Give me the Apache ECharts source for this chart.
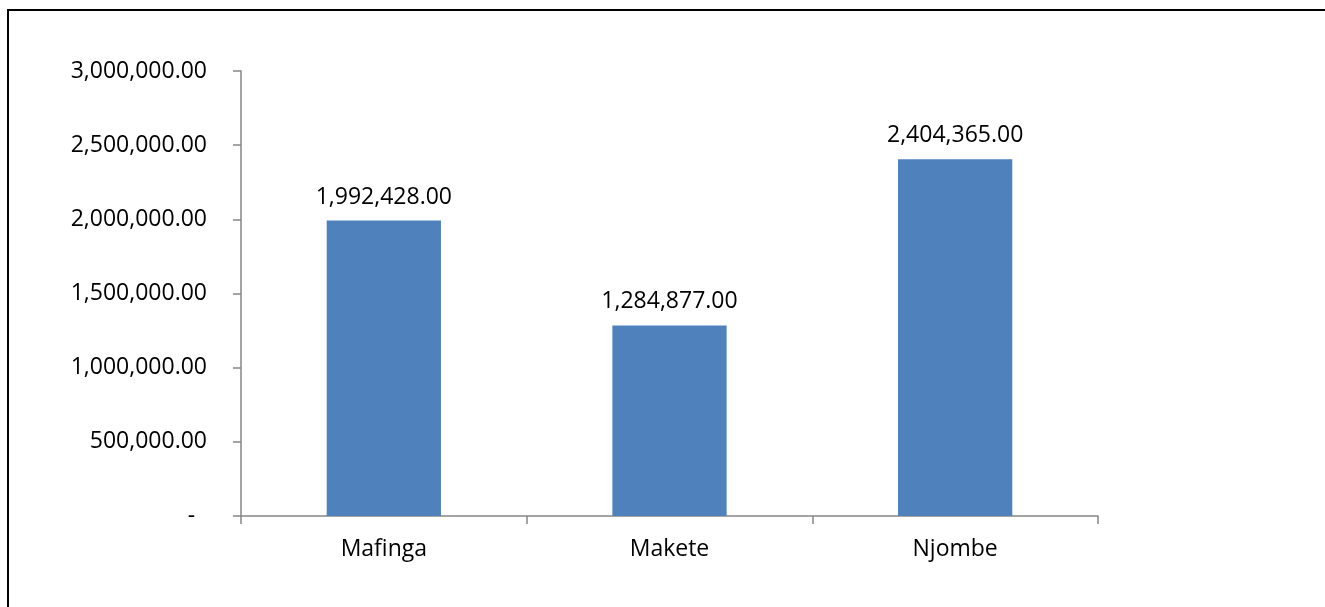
<!DOCTYPE html>
<html>
<head>
<meta charset="utf-8">
<script src="https://cdn.jsdelivr.net/npm/echarts@6/dist/echarts.min.js"></script>
<style>
html,body{margin:0;padding:0;background:#fff;}
#chart{width:1325px;height:607px;}
</style>
</head>
<body>
<div id="chart"></div>
<script>
const categories = ['Mafinga', 'Makete', 'Njombe'];
const values = [1992428, 1284877, 2404365];
const yTicks = [0, 500000, 1000000, 1500000, 2000000, 2500000, 3000000];

function fmt(v) {
  return v.toLocaleString('en-US', {minimumFractionDigits: 2, maximumFractionDigits: 2});
}

const chart = echarts.init(document.getElementById('chart'), null, {renderer: 'canvas'});
const FONT = 'Open Sans';
chart.setOption({
  animation: false,
  backgroundColor: '#ffffff',
  grid: {left: 241, right: 227, top: 71, bottom: 91, containLabel: false},
  graphic: [
    {type: 'polyline', shape: {points: [[8, 607], [8, 10], [1325, 10]]}, style: {stroke: '#000', lineWidth: 2, fill: null}}
  ],
  xAxis: {
    type: 'category',
    data: categories,
    axisLine: {show: true, lineStyle: {color: '#868686', width: 1.5}},
    axisTick: {show: true, alignWithLabel: false, length: 8, lineStyle: {color: '#868686', width: 1.5}},
    axisLabel: {color: '#000', fontFamily: FONT, fontSize: 23, margin: 22},
    splitLine: {show: false}
  },
  yAxis: {
    type: 'value',
    min: yTicks[0],
    max: yTicks[yTicks.length - 1],
    interval: yTicks[1] - yTicks[0],
    axisLine: {show: true, lineStyle: {color: '#868686', width: 1.5}},
    axisTick: {show: true, length: 8, lineStyle: {color: '#868686', width: 1.5}},
    axisLabel: {
      color: '#000', fontFamily: FONT, fontSize: 23, margin: 34,
      formatter: v => v === 0 ? '-  ' : fmt(v)
    },
    splitLine: {show: false}
  },
  series: [{
    type: 'bar',
    data: values,
    barWidth: '40%',
    itemStyle: {color: '#4F81BD'},
    label: {
      show: true, position: 'top', distance: 12,
      color: '#000', fontFamily: FONT, fontSize: 23,
      formatter: p => fmt(p.value)
    }
  }]
});
</script>
</body>
</html>
